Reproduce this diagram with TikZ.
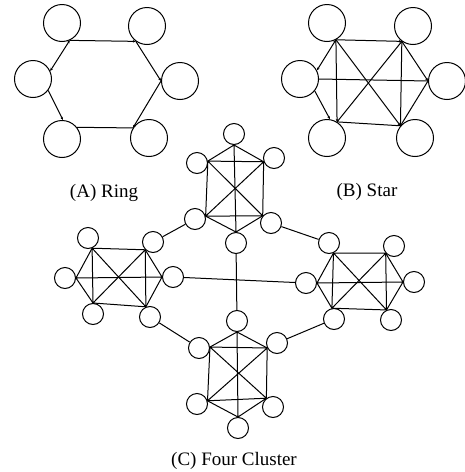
\documentclass[tikz,border=0pt]{standalone}
\usepackage{fontspec}
\setmainfont{Liberation Serif}
\usetikzlibrary{arrows.meta}

\tikzset{
  bignode/.style={draw, circle, line width=1pt, minimum size=37pt, inner sep=0pt},
  smallnode/.style={draw, circle, line width=1pt, minimum size=21pt, inner sep=0pt},
  link/.style={line width=1pt},
  arr/.style={-{Stealth[length=3pt, width=2.6pt]}},
  twoarr/.style={{Stealth[length=3pt, width=2.6pt]}-{Stealth[length=3pt, width=2.6pt]}},
  lbl/.style={font=\fontsize{19}{22}\selectfont, anchor=base}
}

\begin{document}
\begin{tikzpicture}[x=1pt, y=-1pt]
\useasboundingbox (0,0) rectangle (465,472);

% (A) ring
\node[bignode] (a1) at (62,23) {};
\node[bignode] (a2) at (147,26) {};
\node[bignode] (a3) at (33,79) {};
\node[bignode] (a4) at (180,81) {};
\node[bignode] (a5) at (62,139) {};
\node[bignode] (a6) at (149,138) {};
\draw[link, arr] (a1.-66) -- (a2.234);
\draw[link, arr] (a2.234) -- (a4.180);
\draw[link, arr] (a4.180) -- (a6.148);
\draw[link] (a6.148) -- (a5.38);
\draw[link, arr] (a3.-37) -- (a5.87);
\draw[link, twoarr] (a1.-66) -- (a3.25);
\node[lbl] (ringlbl) at (104,197) {(A) Ring};

% (B) star
\node[bignode] (b1) at (327,23) {};
\node[bignode] (b2) at (413,26) {};
\node[bignode] (b3) at (300,79) {};
\node[bignode] (b4) at (447,81) {};
\node[bignode] (b5) at (327,138) {};
\node[bignode] (b6) at (415,138) {};
\draw[link, arr] (b1.-62) -- (b2.234);
\draw[link, arr] (b1.-62) -- (b5.58);
\draw[link, arr] (b1.-62) -- (b6.140);
\draw[link] (b2.234) -- (b6.140);
\draw[link] (b2.234) -- (b5.58);
\draw[link] (b5.58) -- (b6.140);
\draw[link] (b3.0) -- (b4.180);
\draw[link, twoarr] (b3.27) -- (b1.-62);
\draw[link, arr] (b3.-39) -- (b5.81);
\draw[link, arr] (b2.234) -- (b4.180);
\draw[link] (b4.180) -- (b6.140);
\node[lbl] (starlbl) at (367,196) {(B) Star};

% (C) four cluster -- north
\node[smallnode] (n1) at (234,134) {};
\node[smallnode] (n2) at (197,163) {};
\node[smallnode] (n3) at (274,158) {};
\node[smallnode] (n4) at (195,219) {};
\node[smallnode] (n5) at (271,223) {};
\node[smallnode] (n6) at (236,243) {};
\draw[link] (n2.10) -- (n3.200) -- (n5.139) -- (n4.15) -- cycle
  (n2.10) -- (n5.139) (n3.200) -- (n4.15);
\draw[link] (n2.10) -- (n1.south) -- (n3.200) (n1.south) -- (n6.north)
  (n4.15) -- (n6.north) -- (n5.139);

% west
\node[smallnode] (w1) at (65,278) {};
\node[smallnode] (w2) at (88,238) {};
\node[smallnode] (w3) at (93,314) {};
\node[smallnode] (w4) at (153,242) {};
\node[smallnode] (w5) at (150,317) {};
\node[smallnode] (w6) at (173,277) {};
\draw[link] (w2.-68) -- (w4.225) -- (w5.112) -- (w3.90) -- cycle
  (w2.-68) -- (w5.112) (w4.225) -- (w3.90);
\draw[link] (w2.-68) -- (w1.east) -- (w3.90) (w1.east) -- (w6.west)
  (w4.225) -- (w6.west) -- (w5.112);

% east
\node[smallnode] (e1) at (306,283) {};
\node[smallnode] (e2) at (329,243) {};
\node[smallnode] (e3) at (334,319) {};
\node[smallnode] (e4) at (394,246) {};
\node[smallnode] (e5) at (391,320) {};
\node[smallnode] (e6) at (414,282) {};
\draw[link] (e2.-66) -- (e4.221) -- (e5.114) -- (e3.101) -- cycle
  (e2.-66) -- (e5.114) (e4.221) -- (e3.101);
\draw[link] (e2.-66) -- (e1.east) -- (e3.101) (e1.east) -- (e6.west)
  (e4.221) -- (e6.west) -- (e5.114);

% south
\node[smallnode] (s1) at (237,321) {};
\node[smallnode] (s2) at (199,348) {};
\node[smallnode] (s3) at (277,343) {};
\node[smallnode] (s4) at (197,404) {};
\node[smallnode] (s5) at (273,407) {};
\node[smallnode] (s6) at (238,428) {};
\draw[link] (s2.5) -- (s3.207) -- (s5.127) -- (s4.17) -- cycle
  (s2.5) -- (s5.127) (s3.207) -- (s4.17);
\draw[link] (s2.5) -- (s1.south) -- (s3.207) (s1.south) -- (s6.north)
  (s4.17) -- (s6.north) -- (s5.127);

% links between clusters
\draw[link] (n4) -- (w4);
\draw[link] (n5) -- (e2);
\draw[link] (n6) -- (s1);
\draw[link] (w6) -- (e1);
\draw[link] (w5) -- (s2);
\draw[link] (e3) -- (s3);
\node[lbl] (clusterlbl) at (234,465) {(C) Four Cluster};
\end{tikzpicture}
\end{document}
